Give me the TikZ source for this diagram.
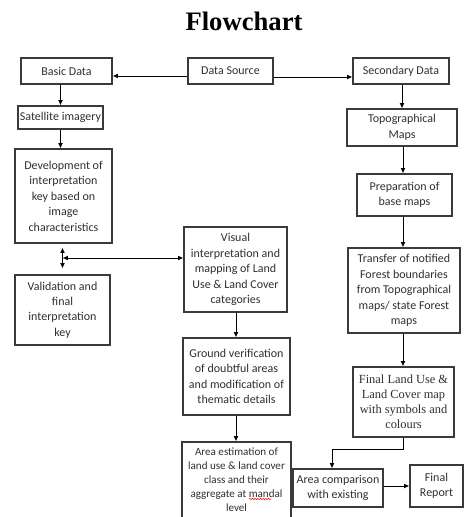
\documentclass[tikz,border=0pt]{standalone}
\usepackage{fontspec}
\setmainfont{Carlito}
\newfontfamily\tnr{Liberation Serif}
\usetikzlibrary{arrows.meta,calc,decorations.pathmorphing}
\definecolor{boxcol}{HTML}{3A3A3A}
\definecolor{textcol}{HTML}{303030}
\begin{document}
\begin{tikzpicture}[x=0.75pt,y=-0.75pt,
  box/.style={draw=boxcol, line width=0.9pt, inner sep=0pt, align=center, text=textcol,
    font=\fontsize{9}{11.6}\selectfont},
  wh/.style 2 args={minimum width=#1*0.75pt, minimum height=#2*0.75pt},
  arr/.style={draw=black, line width=0.7pt, -{Latex[length=4pt,width=3.6pt]}},
  darr/.style={draw=black, line width=0.7pt, {Latex[length=4pt,width=3.6pt]}-{Latex[length=4pt,width=3.6pt]}},
  wave/.style={draw=red, line width=0.4pt, decorate, decoration={snake,amplitude=0.5pt,segment length=2pt}}
]
\useasboundingbox (0,0) rectangle (471,517);
\fill[white] (0,0) rectangle (471,517);

\node[font=\tnr\bfseries\fontsize{20}{24}\selectfont] (title) at (244,21.5) {Flowchart};

\node[box, wh={91}{26}] (basic) at (66.5,71) {Basic Data};
\node[box, wh={85}{26}] (source) at (230.5,71) {Data Source};
\node[box, wh={96}{26}] (secondary) at (401,71) {Secondary Data};
\node[box, wh={85}{23}] (sat) at (60.5,117.5) {Satellite imagery};
\node[box, wh={97}{94}] (dev) at (63.5,196) {Development of\\interpretation\\key based on\\image\\characteristics};
\node[box, wh={95}{70}] (val) at (62.5,310) {Validation and\\final\\interpretation\\key};
\node[box, wh={110}{37}] (topo) at (402,127.5) {Topographical\\Maps};
\node[box, wh={95}{42}] (prep) at (404.5,195) {Preparation of\\base maps};
\node[box, wh={112}{85}] (transfer) at (404,290.5) {Transfer of notified\\Forest boundaries\\from Topographical\\maps/ state Forest\\maps};
\node[box, wh={101}{70}, font=\tnr\fontsize{9.3}{11.3}\selectfont] (final) at (403.5,402) {Final Land Use \&\\Land Cover map\\with symbols and\\colours};
\node[box, wh={90}{38}] (comp) at (338,488) {Area comparison\\with existing};
\node[box, wh={53}{42}] (report) at (436.5,486) {Final\\Report};
\node[box, wh={103}{85}] (visual) at (235.5,269.5) {Visual\\interpretation and\\mapping of Land\\Use \& Land Cover\\categories};
\node[box, wh={107}{77}] (ground) at (236.5,376.5) {Ground verification\\of doubtful areas\\and modification of\\thematic details};
\node[box, wh={109}{76}, font=\fontsize{8.3}{10.5}\selectfont] (est) at (236.5,480) {Area estimation of\\land use \& land cover\\class and their\\aggregate at mandal\\level};
\draw[wave] (249,499) -- (271,499);

% connectors
\draw[arr] ($(source.west)+(0,5)$) -- ($(basic.east)+(0,5)$);
\draw[arr] ($(source.east)+(0,6)$) -- ($(secondary.west)+(0,6)$);
\draw[arr] (basic.south -| sat.north) -- (sat.north);
\draw[arr] (sat.south) -- (sat.south |- dev.north);
\draw[darr, shorten <=3pt, shorten >=4.5pt] (dev.south -| val.north) -- (val.north);
\coordinate (junc) at (62.5,258);
\draw[darr] (junc) -- (junc -| visual.west);
\draw[arr] (secondary.south -| topo.north) -- (topo.north);
\draw[arr] (topo.south -| 403,0) -- (prep.north -| 403,0);
\draw[arr] (prep.south -| 403,0) -- (transfer.north -| 403,0);
\draw[arr] (transfer.south -| 403,0) -- (final.north -| 403,0);
\coordinate (bend) at (403,449);
\coordinate (bend2) at (332,449);
\draw[arr] (final.south -| bend) -- (bend) -- (bend2) -- (bend2 |- comp.north);
\draw[arr] (comp.east |- 0,486) -- (report.west |- 0,486);
\draw[arr] (visual.south -| 236,0) -- (ground.north -| 236,0);
\draw[arr] (ground.south -| 236,0) -- (est.north -| 236,0);
\end{tikzpicture}
\end{document}
